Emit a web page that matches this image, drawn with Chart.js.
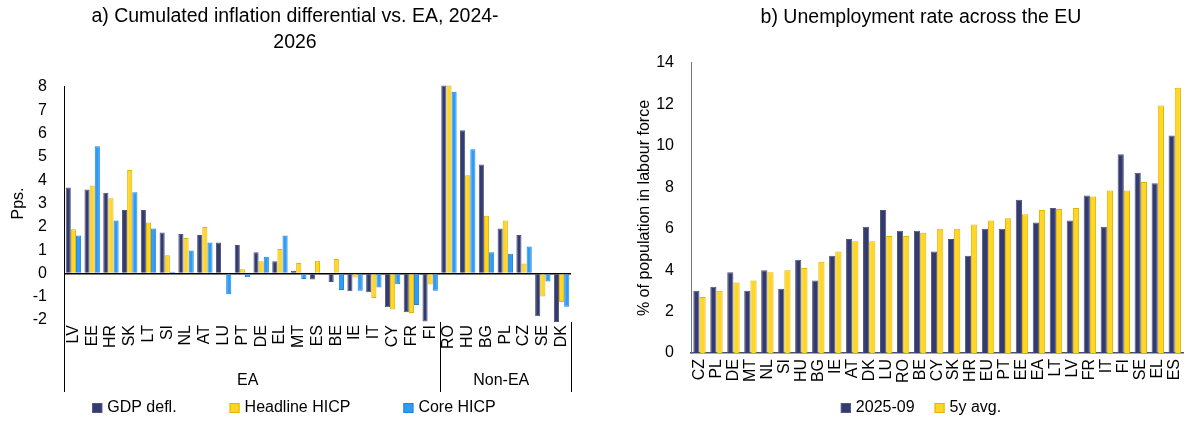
<!DOCTYPE html>
<html>
<head>
<meta charset="utf-8">
<script src="https://cdn.jsdelivr.net/npm/chart.js@4.4.1/dist/chart.umd.min.js"></script>
<style>
  body { margin: 0; background: #fff; }
  #wrap { position: relative; width: 1200px; height: 430px; }
  canvas { position: absolute; top: 0; }
</style>
</head>
<body>
<div id="wrap">
  <canvas id="inflation-chart" width="600" height="430" style="left:0"></canvas>
  <canvas id="unemployment-chart" width="600" height="430" style="left:600px"></canvas>
</div>
<script>
// a) inflation differential, pps
const inflCountries = ['LV','EE','HR','SK','LT','SI','NL','AT','LU','PT','DE','EL','MT','ES','BE','IE','IT','CY','FR','FI','RO','HU','BG','PL','CZ','SE','DK'];
const inflGroups = ['EA', 'Non-EA'];
const inflGroupSizes = [20, 7];
const gdpDefl = [3.69,3.60,3.46,2.72,2.72,1.76,1.69,1.65,1.33,1.22,0.91,0.52,0.11,-0.26,-0.37,-0.77,-0.81,-1.45,-1.67,-2.06,8.06,6.14,4.67,1.93,1.65,-1.84,-2.09];
const headlineHicp = [1.90,3.77,3.22,4.44,2.18,0.78,1.52,1.99,0.02,0.18,0.52,1.05,0.45,0.54,0.62,-0.18,-1.06,-1.55,-1.70,-0.48,8.06,4.21,2.47,2.27,0.43,-0.99,-1.23];
const coreHicp = [1.63,5.46,2.27,3.48,1.93,0.07,0.98,1.33,-0.89,-0.17,0.71,1.63,-0.24,-0.04,-0.71,-0.74,-0.61,-0.47,-1.36,-0.75,7.80,5.33,0.91,0.84,1.15,-0.35,-1.43];

// b) unemployment rate, %
const unempCountries = ['CZ','PL','DE','MT','NL','SI','HU','BG','IE','AT','DK','LU','RO','BE','CY','SK','HR','EU','PT','EE','EA','LT','LV','FR','IT','FI','SE','EL','ES'];
const unemp202509 = [3.0,3.2,3.9,3.0,4.0,3.1,4.5,3.5,4.7,5.5,6.1,6.9,5.9,5.9,4.9,5.5,4.7,6.0,6.0,7.4,6.3,7.0,6.4,7.6,6.1,9.6,8.7,8.2,10.5];
const unemp5y = [2.7,3.0,3.4,3.5,3.9,4.0,4.1,4.4,4.9,5.4,5.4,5.65,5.65,5.8,6.0,6.0,6.2,6.4,6.5,6.7,6.9,6.95,7.0,7.55,7.85,7.85,8.25,11.95,12.8];

const FONT = '"Liberation Sans", Arial, sans-serif';
const NAVY = '#333A6E', YELLOW = '#FFD624', BLUE = '#2E9BF5';

Chart.defaults.font.family = FONT;
Chart.defaults.font.size = 16;
Chart.defaults.color = '#000';

// legend drawn by hand so the gap between items can differ from the vertical padding
const boxLegend = {
  id: 'boxLegend',
  afterDraw(chart, args, opts) {
    const ctx = chart.ctx;
    ctx.save();
    ctx.font = '16px ' + FONT;
    const items = chart.data.datasets.map(ds => ({
      text: ds.label, fill: ds.backgroundColor, border: ds.borderColor, w: ctx.measureText(ds.label).width
    }));
    let total = 0;
    items.forEach((it, i) => { total += 10 + opts.textGap + it.w + (i > 0 ? opts.gap : 0); });
    let x = opts.centerX - total / 2;
    items.forEach(it => {
      ctx.fillStyle = it.fill;
      ctx.fillRect(x, opts.y - 5, 10, 10);
      ctx.strokeStyle = it.border;
      ctx.lineWidth = 1;
      ctx.strokeRect(x + 0.5, opts.y - 4.5, 9, 9);
      ctx.fillStyle = '#000';
      ctx.textAlign = 'left';
      ctx.textBaseline = 'middle';
      ctx.fillText(it.text, x + 10 + opts.textGap, opts.y);
      x += 10 + opts.textGap + it.w + opts.gap;
    });
    ctx.restore();
  }
};

// EA / Non-EA brackets under the country labels
const groupLines = {
  id: 'groupLines',
  afterDraw(chart, args, opts) {
    const ctx = chart.ctx, xs = chart.scales.x, area = chart.chartArea;
    ctx.save();
    ctx.strokeStyle = '#000';
    ctx.lineWidth = 1;
    ctx.font = '16px ' + FONT;
    ctx.fillStyle = '#000';
    ctx.textAlign = 'center';
    ctx.textBaseline = 'middle';
    let start = area.left, idx = 0;
    const line = (x, y0) => {
      ctx.beginPath();
      ctx.moveTo(Math.round(x) + 0.5, y0);
      ctx.lineTo(Math.round(x) + 0.5, opts.bottom);
      ctx.stroke();
    };
    line(start, area.top);
    inflGroups.forEach((g, i) => {
      idx += inflGroupSizes[i];
      const end = idx < inflCountries.length
        ? (xs.getPixelForValue(idx - 1) + xs.getPixelForValue(idx)) / 2
        : area.right;
      line(end, area.bottom + 2);
      ctx.fillText(g, (start + end) / 2 - 4, opts.labelY);
      start = end;
    });
    ctx.restore();
  }
};

const inflChart = document.getElementById('inflation-chart');
const unempChart = document.getElementById('unemployment-chart');

new Chart(inflChart, {
  type: 'bar',
  data: {
    labels: inflCountries,
    datasets: [
      { label: 'GDP defl.', data: gdpDefl, backgroundColor: NAVY, borderColor: '#50557f', borderWidth: 1, clip: false },
      { label: 'Headline HICP', data: headlineHicp, backgroundColor: YELLOW, borderColor: '#E2B400', borderWidth: 1, clip: false },
      { label: 'Core HICP', data: coreHicp, backgroundColor: BLUE, borderColor: '#1F84DE', borderWidth: 1, clip: false }
    ]
  },
  options: {
    responsive: false,
    animation: false,
    layout: { padding: { left: 19, right: 29, top: 0, bottom: 0 } },
    datasets: { bar: { categoryPercentage: 0.82, barPercentage: 1.0 } },
    plugins: {
      legend: { display: false },
      tooltip: { enabled: false },
      title: {
        display: true,
        text: ['a) Cumulated inflation differential vs. EA, 2024-', '2026'],
        font: { size: 19.5, weight: 'normal', lineHeight: 1.3333 },
        color: '#000',
        padding: { top: 4, bottom: 31 }
      },
      boxLegend: { centerX: 294, y: 408, gap: 53, textGap: 5 },
      groupLines: { bottom: 392, labelY: 381 }
    },
    scales: {
      x: {
        grid: { display: false, drawTicks: false },
        border: { display: false },
        ticks: { autoSkip: false, minRotation: 90, maxRotation: 90, padding: 5 },
        afterFit: s => { s.height = 110; }
      },
      y: {
        min: -2,
        max: 8,
        ticks: { stepSize: 1, padding: 17 },
        grid: {
          drawTicks: false,
          color: c => c.tick && c.tick.value === 0 ? '#000' : 'rgba(0,0,0,0)',
          lineWidth: 1.5
        },
        border: { display: true, color: '#000', width: 1 },
        title: { display: true, text: 'Pps.', padding: { top: -9.6, bottom: 0 } },
        afterFit: s => { s.width = 45; }
      }
    }
  },
  plugins: [boxLegend, groupLines]
});

new Chart(unempChart, {
  type: 'bar',
  data: {
    labels: unempCountries,
    datasets: [
      { label: '2025-09', data: unemp202509, backgroundColor: NAVY, borderColor: '#50557f', borderWidth: 1 },
      { label: '5y avg.', data: unemp5y, backgroundColor: YELLOW, borderColor: '#E2B400', borderWidth: 1 }
    ]
  },
  options: {
    responsive: false,
    animation: false,
    layout: { padding: { left: 45, right: 3, top: 0, bottom: 0 } },
    datasets: { bar: { categoryPercentage: 0.73, barPercentage: 1.0 } },
    plugins: {
      legend: { display: false },
      tooltip: { enabled: false },
      title: {
        display: true,
        text: 'b) Unemployment rate across the EU',
        font: { size: 19.5, weight: 'normal', lineHeight: 1.3333 },
        color: '#000',
        padding: { top: 5, bottom: 32 }
      },
      boxLegend: { centerX: 321, y: 408, gap: 20, textGap: 5 }
    },
    scales: {
      x: {
        grid: { display: false, drawTicks: false },
        border: { display: true, color: '#4b5078', width: 1.5 },
        ticks: { autoSkip: false, minRotation: 90, maxRotation: 90, padding: 6 },
        afterFit: s => { s.height = 77; }
      },
      y: {
        min: 0,
        max: 14,
        ticks: { stepSize: 2, padding: 17 },
        grid: { display: false, drawTicks: false },
        border: { display: true, color: '#6f7392', width: 1 },
        title: { display: true, text: '% of population in labour force', padding: { top: -9.6, bottom: 0 } },
        afterFit: s => { s.width = 46; }
      }
    }
  },
  plugins: [boxLegend]
});
</script>
</body>
</html>
